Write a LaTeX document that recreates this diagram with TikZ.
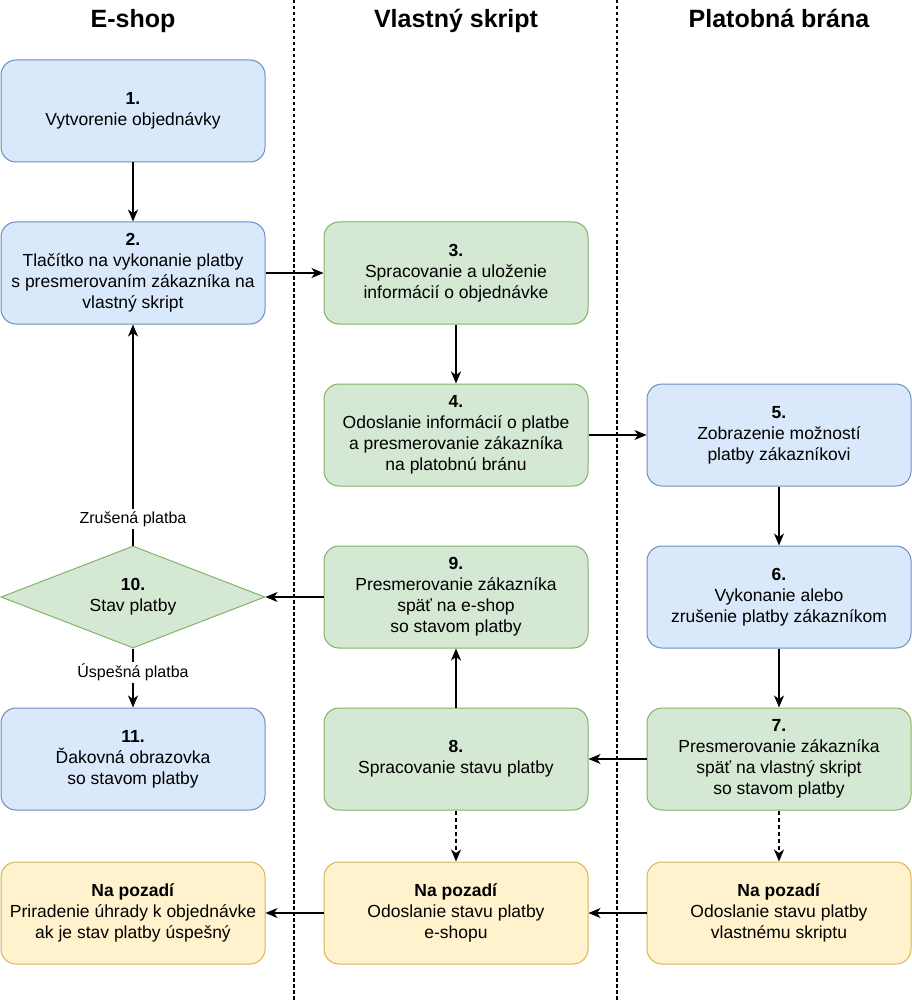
\documentclass[tikz,border=0pt]{standalone}
\usepackage{fontspec}
\setmainfont{Liberation Sans}
\usepackage{tikz}
\usetikzlibrary{shapes.geometric,positioning,arrows.meta}
\definecolor{bluefill}{HTML}{DAE8FC}
\definecolor{bluedraw}{HTML}{6C8EBF}
\definecolor{greenfill}{HTML}{D5E8D4}
\definecolor{greendraw}{HTML}{82B366}
\definecolor{yellowfill}{HTML}{FFF2CC}
\definecolor{yellowdraw}{HTML}{D6B656}
\tikzset{stepbox/.style={rectangle,rounded corners=15pt,draw,minimum width=264pt,minimum height=102pt,inner sep=0pt,align=center,line width=1pt,font=\fontsize{17.5}{21}\selectfont}}
\tikzset{bluebox/.style={stepbox,fill=bluefill,draw=bluedraw}}
\tikzset{greenbox/.style={stepbox,fill=greenfill,draw=greendraw}}
\tikzset{yellowbox/.style={stepbox,fill=yellowfill,draw=yellowdraw}}
\tikzset{decision/.style={diamond,aspect=2.6,draw=greendraw,fill=greenfill,minimum width=264pt,minimum height=102pt,inner sep=0pt,align=center,line width=1pt,font=\fontsize{17.5}{21}\selectfont}}
\tikzset{header/.style={draw=none,inner sep=0pt,text height=18pt,text depth=5pt,font=\fontsize{25}{28}\selectfont\bfseries}}
\tikzset{lane/.style={line width=1.2pt,dash pattern=on 3.5pt off 2.5pt}}
\tikzset{flow/.style={-{Stealth[length=12pt,width=10pt,inset=3.5pt]},line width=1.3pt}}
\tikzset{bgflow/.style={flow,dash pattern=on 4pt off 3pt}}
\tikzset{edgelabel/.style={fill=white,inner sep=2pt,font=\fontsize{16}{19}\selectfont}}

\begin{document}
\begin{tikzpicture}
        \useasboundingbox (0pt,0pt) rectangle (911pt,-1000pt);
        \draw[lane] (294pt,0pt) -- (294pt,-1000pt);
        \draw[lane] (617pt,0pt) -- (617pt,-1000pt);

        \node[bluebox] (order) at (133pt,-111pt) {\textbf{1.}\\Vytvorenie objednávky};
        \node[bluebox,below=59pt of order] (paybtn) {\textbf{2.}\\Tlačítko na vykonanie platby\\s presmerovaním zákazníka na\\vlastný skript};
        \node[greenbox,right=58pt of paybtn] (save) {\textbf{3.}\\Spracovanie a uloženie\\informácií o objednávke};
        \node[greenbox,below=59pt of save] (send) {\textbf{4.}\\Odoslanie informácií o platbe\\a presmerovanie zákazníka\\na platobnú bránu};
        \node[bluebox,right=58pt of send] (options) {\textbf{5.}\\Zobrazenie možností\\platby zákazníkovi};
        \node[bluebox,below=59pt of options] (execute) {\textbf{6.}\\Vykonanie alebo\\zrušenie platby zákazníkom};
        \node[greenbox,below=59pt of execute] (redirect) {\textbf{7.}\\Presmerovanie zákazníka\\späť na vlastný skript\\so stavom platby};
        \node[greenbox,left=58pt of redirect] (process) {\textbf{8.}\\Spracovanie stavu platby};
        \node[greenbox,above=59pt of process] (back) {\textbf{9.}\\Presmerovanie zákazníka\\späť na e-shop\\so stavom platby};
        \node[decision,left=58pt of back] (status) {\textbf{10.}\\Stav platby};
        \node[bluebox,below=59pt of status] (thanks) {\textbf{11.}\\Ďakovná obrazovka\\so stavom platby};

        \node[yellowbox,below=51pt of thanks] (bg-eshop) {\textbf{Na pozadí}\\Priradenie úhrady k objednávke\\ak je stav platby úspešný};
        \node[yellowbox,below=51pt of process] (bg-script) {\textbf{Na pozadí}\\Odoslanie stavu platby\\e-shopu};
        \node[yellowbox,below=51pt of redirect] (bg-gate) {\textbf{Na pozadí}\\Odoslanie stavu platby\\vlastnému skriptu};

        \node[header] (eshop) at (133pt,-21pt) {E-shop};
        \node[header] (script) at (save |- eshop) {Vlastný skript};
        \node[header] (gate) at (options |- eshop) {Platobná brána};

        \draw[flow] (order) to (paybtn);
        \draw[flow] (paybtn) to (save);
        \draw[flow] (save) to (send);
        \draw[flow] (send) to (options);
        \draw[flow] (options) to (execute);
        \draw[flow] (execute) to (redirect);
        \draw[flow] (redirect) to (process);
        \draw[flow] (process) to (back);
        \draw[flow] (back) to (status);
        \draw[flow] (status) to node[edgelabel,pos=0.12] {Zrušená platba} (paybtn);
        \draw[flow] (status) to node[edgelabel,pos=0.4] {Úspešná platba} (thanks);

        \draw[bgflow] (redirect) to (bg-gate);
        \draw[bgflow] (process) to (bg-script);
        \draw[flow] (bg-gate) to (bg-script);
        \draw[flow] (bg-script) to (bg-eshop);
    \end{tikzpicture}
\end{document}
